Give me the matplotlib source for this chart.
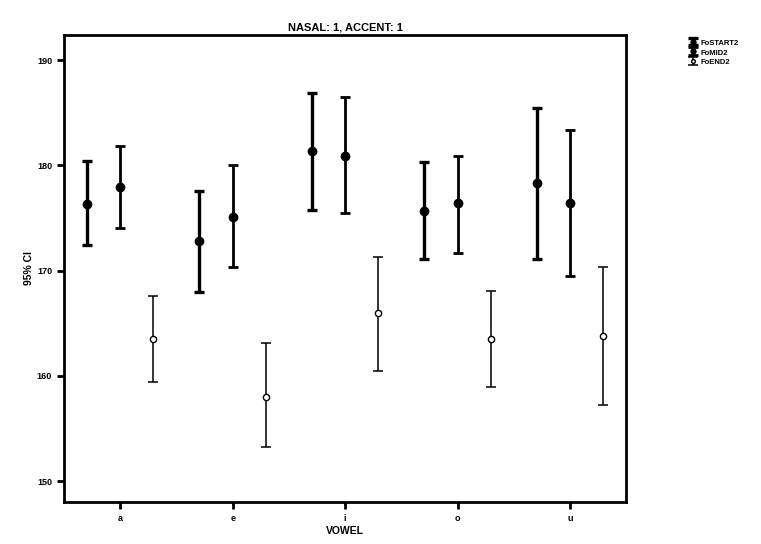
import matplotlib
matplotlib.use("Agg")
import matplotlib.pyplot as plt
import numpy as np

vowels = ["a", "e", "i", "o", "u"]
series = ["FoSTART2", "FoMID2", "FoEND2"]

# mean, lower, upper of 95% CI per vowel
start_mean = [176.3, 172.8, 181.4, 175.7, 178.3]
start_lo = [172.4, 168.0, 175.8, 171.1, 171.1]
start_hi = [180.4, 177.6, 186.9, 180.3, 185.4]

mid_mean = [177.9, 175.1, 180.9, 176.4, 176.4]
mid_lo = [174.0, 170.3, 175.5, 171.7, 169.5]
mid_hi = [181.8, 180.0, 186.5, 180.9, 183.4]

end_mean = [163.5, 158.0, 166.0, 163.5, 163.8]
end_lo = [159.4, 153.2, 160.5, 158.9, 157.2]
end_hi = [167.6, 163.1, 171.3, 168.1, 170.3]

plt.rcParams['font.family'] = ['Liberation Sans', 'DejaVu Sans']
plt.rcParams['font.weight'] = 'bold'

fig = plt.figure(figsize=(7.61, 5.44), dpi=100)
ax = fig.add_axes([0.084, 0.077, 0.739, 0.859])

x = np.arange(1, len(vowels) + 1)
off = 0.295

def draw(xs, m, lo, hi, lw, mfc, ms, label):
    m = np.array(m); lo = np.array(lo); hi = np.array(hi)
    return ax.errorbar(xs, m, yerr=[m - lo, hi - m], fmt='o', color='black',
                       ecolor='black', elinewidth=lw, capsize=3.3, capthick=lw,
                       ms=ms, mfc=mfc, mec='black', label=label)

h1 = draw(x - off, start_mean, start_lo, start_hi, 2.4, 'black', 6, series[0])
h2 = draw(x, mid_mean, mid_lo, mid_hi, 2.0, 'black', 6, series[1])
h3 = draw(x + off, end_mean, end_lo, end_hi, 1.1, 'white', 4.5, series[2])

ax.set_xlim(0.5, 5.5)
ax.set_ylim(148.0, 192.4)
ax.set_yticks([150, 160, 170, 180, 190])
ax.set_xticks(x)
ax.set_xticklabels(vowels)
for s in ax.spines.values():
    s.set_linewidth(2)
ax.tick_params(axis='both', width=2, length=5, labelsize=6.5)

ax.set_xlabel("VOWEL", fontsize=7.5, fontweight='bold', labelpad=2)
ax.set_ylabel("95% CI", fontsize=7.5, fontweight='bold', labelpad=2)
ax.set_title("NASAL: 1, ACCENT: 1", fontsize=8, fontweight='bold', pad=3)

fig.legend(handles=[h1, h2, h3], labels=series, loc='upper left',
           bbox_to_anchor=(0.903, 0.935), frameon=False, fontsize=5.5,
           handlelength=0.8, handleheight=1.2, handletextpad=0.5,
           labelspacing=0.15, borderaxespad=0, markerscale=0.6)

fig.savefig("out.png", dpi=100)
